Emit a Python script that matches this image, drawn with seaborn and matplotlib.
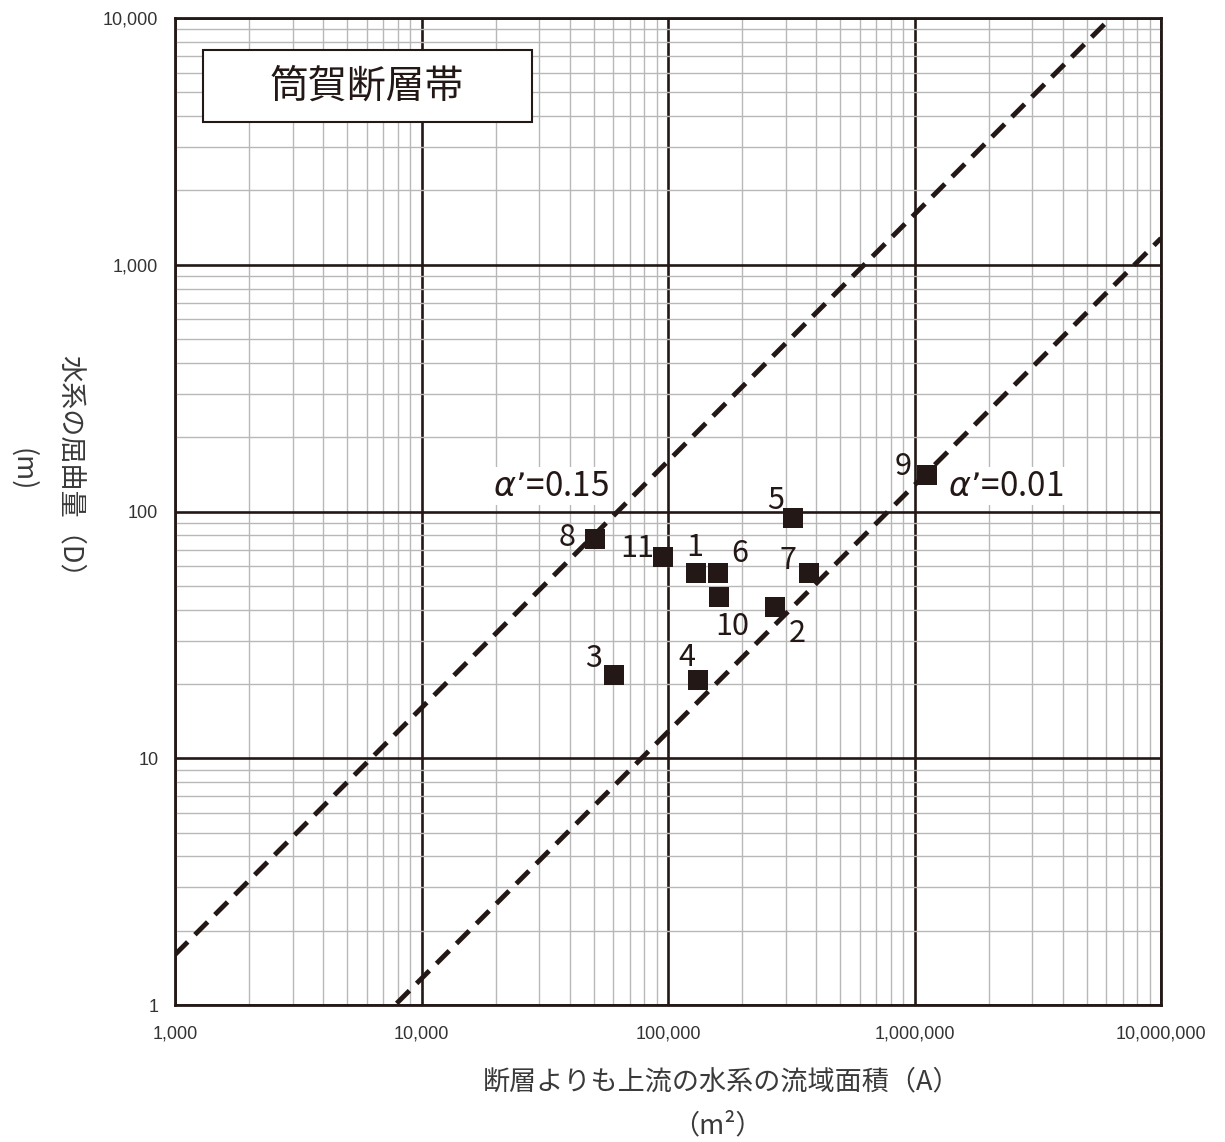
import numpy as np
import pandas as pd
import seaborn as sns
import matplotlib.pyplot as plt
from matplotlib.ticker import FuncFormatter, LogLocator, NullFormatter
from matplotlib.patches import Rectangle

# data
point_ids = ['1', '2', '3', '4', '5', '6', '7', '8', '9', '10', '11']
area_m2 = [129900, 271700, 60400, 132400, 321500, 159500, 373300, 50600, 1124000, 161000, 95500]
bend_m = [56.3, 41.0, 21.7, 20.8, 94.1, 56.3, 56.3, 77.4, 140.6, 45.1, 65.4]

alpha_labels = ['0.15', '0.01']
alpha_coef = [1.6e-3, 1.28e-4]   # D = coef * A for each reference line

x_ticks = [1e3, 1e4, 1e5, 1e6, 1e7]
y_ticks = [1, 10, 100, 1000, 10000]

title = '筒賀断層帯'
xlabel = '断層よりも上流の水系の流域面積（A）'
xunit = '（m²）'
ylabel = '水系の屈曲量（D）'
yunit = '(m)'

# label offsets in pixels (layout only)
label_offsets = {'1': (-1, 26), '2': (22, -26), '3': (-20, 17), '4': (-11, 22),
                 '5': (-17, 18), '6': (22, 20), '7': (-21, 13), '8': (-28, 1),
                 '9': (-24, 8), '10': (13, -30), '11': (-26, 9)}

df = pd.DataFrame({'id': point_ids, 'A': area_m2, 'D': bend_m})

sns.set_style('white')
jp = ['Noto Sans CJK JP', 'DejaVu Sans']
plt.rcParams['font.family'] = jp
ink = '#231815'

fig = plt.figure(figsize=(12.25, 11.42), dpi=100)
ax = fig.add_axes([175 / 1225, 1 - 1005 / 1142, 986 / 1225, 987 / 1142])
ax.set_xscale('log')
ax.set_yscale('log')
ax.set_xlim(1e3, 1e7)
ax.set_ylim(1, 1e4)

# grid
ax.xaxis.set_minor_locator(LogLocator(base=10, subs=np.arange(2, 10)))
ax.yaxis.set_minor_locator(LogLocator(base=10, subs=np.arange(2, 10)))
ax.xaxis.set_minor_formatter(NullFormatter())
ax.yaxis.set_minor_formatter(NullFormatter())
ax.grid(which='minor', color='#b8b8b8', linewidth=1.0, zorder=0)
ax.grid(which='major', color=ink, linewidth=1.9, zorder=0.5)
ax.set_axisbelow(True)

# reference lines
xs = np.array([1e3, 1e7])
for lab, k in zip(alpha_labels, alpha_coef):
    ax.plot(xs, k * xs, color=ink, linewidth=3.5, dashes=(3.7, 2.1), zorder=2)

sns.scatterplot(data=df, x='A', y='D', marker='s', s=215, color=ink,
                edgecolor='none', ax=ax, zorder=3, legend=False)

for pid, a, d in zip(point_ids, area_m2, bend_m):
    ax.annotate(pid, (a, d), xytext=label_offsets[pid], textcoords='offset pixels',
                ha='center', va='center', fontsize=22, color=ink, zorder=4)

# alpha labels (positioned in axes pixels)
alpha_pos = [(551, 486), (1006, 486)]
for lab, (px, py) in zip(alpha_labels, alpha_pos):
    ax.text((px - 175) / 986, (1005 - py) / 987, r'$\alpha$’=' + lab,
            transform=ax.transAxes, ha='center', va='center', fontsize=24,
            color=ink, zorder=4,
            bbox=dict(facecolor='white', edgecolor='none', pad=1))

# ticks
fmt = FuncFormatter(lambda v, p: '{:,.0f}'.format(v))
ax.set_xticks(x_ticks)
ax.set_yticks(y_ticks)
ax.xaxis.set_major_formatter(fmt)
ax.yaxis.set_major_formatter(fmt)
ax.tick_params(which='major', direction='out', length=7, width=2, color=ink,
               labelsize=13, labelcolor='#333333')
ax.tick_params(axis='x', which='major', pad=8)
ax.tick_params(axis='y', which='major', pad=5)
ax.tick_params(which='minor', length=0)
for lbl in ax.get_xticklabels() + ax.get_yticklabels():
    lbl.set_family(['Liberation Sans', 'DejaVu Sans'])

for sp in ax.spines.values():
    sp.set_color(ink)
    sp.set_linewidth(2)
    sp.set_visible(True)

# title box
ax.add_patch(Rectangle((28 / 986, (1005 - 122) / 987), 329 / 986, 72 / 987,
                       transform=ax.transAxes, facecolor='white', edgecolor=ink,
                       linewidth=1.5, zorder=5))
ax.text(192 / 986, (1005 - 87) / 987, title, transform=ax.transAxes,
        ha='center', va='center', fontsize=28, color=ink, zorder=6)

ax.set_xlabel('')
ax.set_ylabel('')
fig.text(722 / 1225, 1 - 1082 / 1142, xlabel, ha='center', va='center',
         fontsize=19.5, color='#3a3a3a')
fig.text(717 / 1225, 1 - 1126 / 1142, xunit, ha='center', va='center',
         fontsize=19.5, color='#3a3a3a')
fig.text(70 / 1225, 1 - 473 / 1142, ylabel, ha='center', va='center',
         rotation=270, fontsize=19.5, color='#3a3a3a')
fig.text(22 / 1225, 1 - 470 / 1142, yunit, ha='center', va='center',
         rotation=270, fontsize=19.5, color='#3a3a3a')

fig.savefig('out.png', dpi=100, facecolor='white')
